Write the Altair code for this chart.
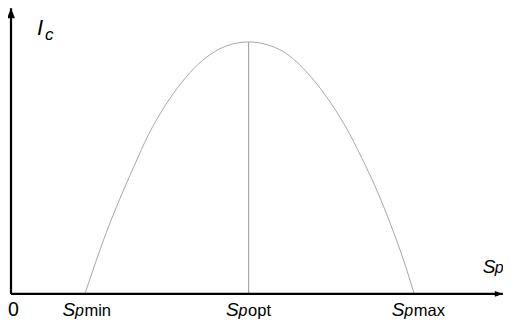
import altair as alt
import pandas as pd

# Curve (Sp in units where Spopt = 100, Ic in units where peak = 100)
sp_curve = [31.1, 35.6, 41.1, 46.6, 53.5, 56.3, 63.2, 70.1, 77.1, 84.0, 90.9, 100.0,
            113.0, 124.1, 133.7, 140.7, 147.6, 153.1, 160.0, 165.6, 169.7]
ic_curve = [0.0, 12.5, 26.8, 39.5, 54.3, 60.2, 72.2, 81.8, 89.6, 95.1, 98.5, 100.0,
            97.0, 88.4, 77.0, 66.6, 54.0, 43.0, 27.0, 12.3, 0.0]

tick_values = [31.1, 100.0, 169.7]
tick_subs = ["min", "opt", "max"]
sp_opt = 100.0
ic_peak = 100.0

SP_AXIS_END = 207.0
IC_AXIS_END = 113.4
X_DOMAIN = [-1.263, 207.07]
Y_DOMAIN = [-10.36, 113.48]

FONT = "Liberation Sans"

curve_df = pd.DataFrame({"sp": sp_curve, "ic": ic_curve})
ticks_df = pd.DataFrame({"sp": tick_values, "ic": [0.0] * 3, "sub": tick_subs})
opt_df = pd.DataFrame({"sp": [sp_opt], "ic": [0.0], "ic2": [ic_peak]})
axes_df = pd.DataFrame({"sp": [0.0], "ic": [0.0], "spend": [SP_AXIS_END], "icend": [IC_AXIS_END]})

xs = alt.Scale(domain=X_DOMAIN, nice=False, zero=False)
ys = alt.Scale(domain=Y_DOMAIN, nice=False, zero=False)
X = lambda f: alt.X(f, type="quantitative", scale=xs, axis=None)
Y = lambda f: alt.Y(f, type="quantitative", scale=ys, axis=None)

curve = alt.Chart(curve_df).mark_line(color="#a8a8a8", strokeWidth=1, interpolate="monotone").encode(
    x=X("sp"), y=Y("ic"), order="sp:Q")

opt_line = alt.Chart(opt_df).mark_rule(color="#a8a8a8", strokeWidth=1.2).encode(
    x=X("sp"), y=Y("ic"), y2="ic2:Q")

y_axis = alt.Chart(axes_df).mark_rule(color="black", strokeWidth=2.2).encode(
    x=X("sp"), y=Y("ic"), y2="icend:Q")
x_axis = alt.Chart(axes_df).mark_rule(color="black", strokeWidth=2.2).encode(
    x=X("sp"), x2="spend:Q", y=Y("ic"))

up_arrow = alt.Chart(axes_df).mark_point(
    shape="M0,0L0.8,2L-0.8,2Z", size=100, filled=True, color="black", opacity=1, strokeWidth=0
).encode(x=X("sp"), y=Y("icend"))
right_arrow = alt.Chart(axes_df).mark_point(
    shape="M0,0L-2,0.7L-2,-0.7Z", size=64, filled=True, color="black", opacity=1, strokeWidth=0
).encode(x=X("spend"), y=Y("ic"))

zero_lbl = alt.Chart(axes_df).mark_text(
    text="0", font=FONT, fontSize=19.5, align="center", baseline="alphabetic", dy=22.5, dx=2.5, color="black"
).encode(x=X("sp"), y=Y("ic"))

s_lbl = alt.Chart(ticks_df).mark_text(
    text="S", font=FONT, fontSize=19, fontStyle="italic", align="left", baseline="alphabetic",
    dx=-22.5, dy=22, color="black").encode(x=X("sp"), y=Y("ic"))
p_lbl = alt.Chart(ticks_df).mark_text(
    text="p", font=FONT, fontSize=16, fontStyle="italic", align="left", baseline="alphabetic",
    dx=-10, dy=22, color="black").encode(x=X("sp"), y=Y("ic"))
sub_lbl = alt.Chart(ticks_df).mark_text(
    font=FONT, fontSize=16.5, align="left", baseline="alphabetic",
    dx=-0.5, dy=22, color="black").encode(x=X("sp"), y=Y("ic"), text="sub:N")

ic_I = alt.Chart(axes_df).mark_text(
    text="I", font=FONT, fontSize=22, fontStyle="italic", align="left", baseline="alphabetic",
    dx=26, dy=26.6, color="black").encode(x=X("sp"), y=Y("icend"))
ic_c = alt.Chart(axes_df).mark_text(
    text="c", font=FONT, fontSize=17, fontStyle="italic", align="left", baseline="alphabetic",
    dx=34, dy=31.5, color="black").encode(x=X("sp"), y=Y("icend"))

sp_S = alt.Chart(axes_df).mark_text(
    text="S", font=FONT, fontSize=19, fontStyle="italic", align="left", baseline="alphabetic",
    dx=-20, dy=-21.2, color="black").encode(x=X("spend"), y=Y("ic"))
sp_p = alt.Chart(axes_df).mark_text(
    text="p", font=FONT, fontSize=16, fontStyle="italic", align="left", baseline="alphabetic",
    dx=-8, dy=-21.2, color="black").encode(x=X("spend"), y=Y("ic"))

chart = alt.layer(
    curve, opt_line, y_axis, x_axis, up_arrow, right_arrow,
    zero_lbl, s_lbl, p_lbl, sub_lbl, ic_I, ic_c, sp_S, sp_p
).properties(
    width=495, height=312, autosize=alt.AutoSizeParams(type="none"), padding=0
).configure(background="white").configure_view(stroke=None)

chart.save("out.html", embed_options={"renderer": "svg", "actions": False})
